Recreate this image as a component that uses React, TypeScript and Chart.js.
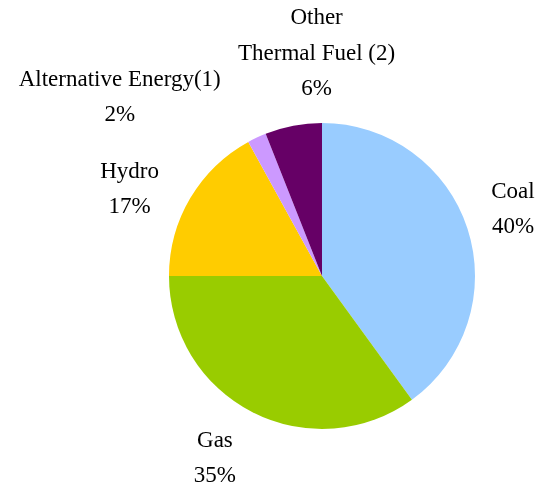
import React, { useEffect, useRef } from "react";
import { Chart, registerables } from "chart.js";

Chart.register(...registerables);

const categories = ["Coal", "Gas", "Hydro", "Alternative Energy(1)", "Other\nThermal Fuel (2)"];
const shares = [40, 35, 17, 2, 6];
const colors = ["#99CCFF", "#99CC00", "#FFCC00", "#CC99FF", "#660066"];
// label placement tweaks (pixels) relative to the arc's mid-angle anchor
const labelDx = [-4, -14, -16, -115, 33];
const labelDy = [-3, 0, 18, 7, -21];

const FONT = "'Liberation Serif', 'DejaVu Serif', serif";

const labelPlugin = {
  id: "outerLabels",
  afterDraw(chart: any) {
    const ctx = chart.ctx;
    const meta = chart.getDatasetMeta(0);
    const data = chart.data.datasets[0].data as number[];
    ctx.save();
    ctx.fillStyle = "#000";
    ctx.font = `23px ${FONT}`;
    ctx.textAlign = "center";
    ctx.textBaseline = "middle";
    meta.data.forEach((arc: any, i: number) => {
      const mid = (arc.startAngle + arc.endAngle) / 2;
      const R = arc.outerRadius + 52;
      const x = arc.x + Math.cos(mid) * R + labelDx[i];
      const y = arc.y + Math.sin(mid) * R + labelDy[i];
      const lines = String(chart.data.labels[i]).split("\n");
      lines.push(`${data[i]}%`);
      const lh = 35.5;
      const y0 = y - ((lines.length - 1) * lh) / 2;
      lines.forEach((t, k) => ctx.fillText(t, x, y0 + k * lh));
    });
    ctx.restore();
  },
};

export default function App() {
  const ref = useRef<HTMLCanvasElement>(null);
  useEffect(() => {
    document.body.style.margin = "0";
    const chart = new Chart(ref.current!, {
      type: "pie",
      data: {
        labels: categories,
        datasets: [
          {
            data: shares,
            backgroundColor: colors,
            borderWidth: 0,
          },
        ],
      },
      options: {
        animation: false,
        responsive: false,
        layout: { padding: { left: 169, right: 65, top: 123, bottom: 62 } },
        plugins: {
          legend: { display: false },
          tooltip: { enabled: false },
        },
      },
      plugins: [labelPlugin],
    });
    return () => chart.destroy();
  }, []);
  return (
    <div style={{ position: "absolute", left: 0, top: 0, width: 540, height: 491, background: "#fff" }}>
      <canvas ref={ref} width={540} height={491} style={{ width: 540, height: 491 }} />
    </div>
  );
}
